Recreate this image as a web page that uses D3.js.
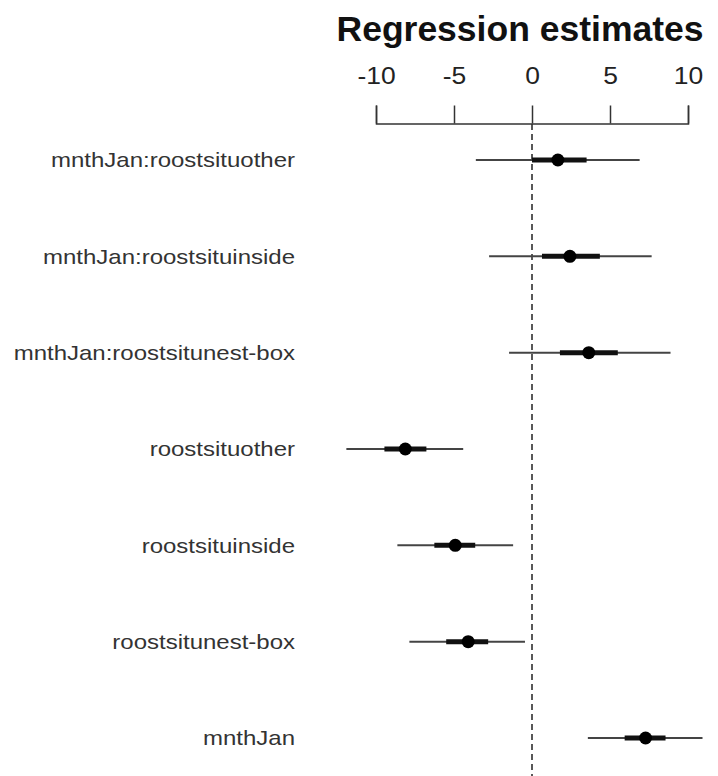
<!DOCTYPE html>
<html>
<head>
<meta charset="utf-8">
<script src="https://cdn.jsdelivr.net/npm/d3@7"></script>
<style>
  body { margin: 0; background: #fff; }
  svg { display: block; }
</style>
</head>
<body>
<svg id="chart" width="718" height="776"></svg>
<script>
// coefficient names, top to bottom
const terms = [
  "mnthJan:roostsituother",
  "mnthJan:roostsituinside",
  "mnthJan:roostsitunest-box",
  "roostsituother",
  "roostsituinside",
  "roostsitunest-box",
  "mnthJan"
];
const estimate = [1.66, 2.43, 3.64, -8.12, -4.92, -4.09, 7.28];
const lo1 = [0.0, 0.64, 1.79, -9.46, -6.26, -5.5, 5.94];   // thick (1 se)
const hi1 = [3.5, 4.35, 5.5, -6.77, -3.64, -2.81, 8.56];
const lo2 = [-3.6, -2.75, -1.47, -11.9, -8.63, -7.86, 3.58]; // thin (2 se)
const hi2 = [6.9, 7.67, 8.88, -4.41, -1.21, -0.45, 10.93];
const ticks = [-10, -5, 0, 5, 10];

const svg = d3.select("#chart");

const x = d3.scaleLinear().domain([-10, 10]).range([376, 688]);
const y = d3.scalePoint().domain(terms).range([160, 738]);

const rows = terms.map((t, i) => ({
  term: t, est: estimate[i], lo1: lo1[i], hi1: hi1[i], lo2: lo2[i], hi2: hi2[i]
}));

// title
svg.append("text")
  .attr("x", 520).attr("y", 41)
  .attr("text-anchor", "middle")
  .style("font-family", "Liberation Sans, Arial, sans-serif")
  .style("font-weight", "bold")
  .style("font-size", "35.5px")
  .attr("fill", "#111")
  .text("Regression estimates");

// zero line
svg.append("line")
  .attr("x1", x(0)).attr("x2", x(0))
  .attr("y1", 124).attr("y2", 776)
  .attr("stroke", "#222")
  .attr("stroke-width", 1.5)
  .attr("stroke-dasharray", "6,4");

// top axis
const axisG = svg.append("g")
  .attr("transform", "translate(0,123.5)")
  .call(d3.axisTop(x).tickValues(ticks).tickSize(18).tickPadding(22)
    .tickFormat(d => d < 0 ? "-" + Math.abs(d) : String(d)));
axisG.selectAll("path, line").attr("stroke", "#333").attr("stroke-width", 1.5);
axisG.selectAll(".tick text")
  .style("font-family", "Liberation Sans, Arial, sans-serif")
  .style("font-size", "23px")
  .attr("fill", "#222")
  .attr("transform", "scale(1.15,1)");

// row labels
const labels = svg.append("g").selectAll("g.lab")
  .data(rows).enter().append("g")
  .attr("transform", d => `translate(295,${y(d.term)})`);
labels.append("text")
  .attr("text-anchor", "end")
  .attr("dy", "0.36em")
  .attr("transform", "scale(1.2,1)")
  .style("font-family", "Liberation Sans, Arial, sans-serif")
  .style("font-size", "20px")
  .attr("fill", "#333")
  .text(d => d.term);

// intervals
const g = svg.append("g");
g.selectAll("line.outer")
  .data(rows).enter().append("line")
  .attr("x1", d => x(d.lo2)).attr("x2", d => x(d.hi2))
  .attr("y1", d => y(d.term)).attr("y2", d => y(d.term))
  .attr("stroke", "#444")
  .attr("stroke-width", 2);
g.selectAll("line.inner")
  .data(rows).enter().append("line")
  .attr("x1", d => x(d.lo1)).attr("x2", d => x(d.hi1))
  .attr("y1", d => y(d.term)).attr("y2", d => y(d.term))
  .attr("stroke", "#111")
  .attr("stroke-width", 5);
g.selectAll("circle")
  .data(rows).enter().append("circle")
  .attr("cx", d => x(d.est))
  .attr("cy", d => y(d.term))
  .attr("r", 6.5)
  .attr("fill", "#000");
</script>
</body>
</html>
